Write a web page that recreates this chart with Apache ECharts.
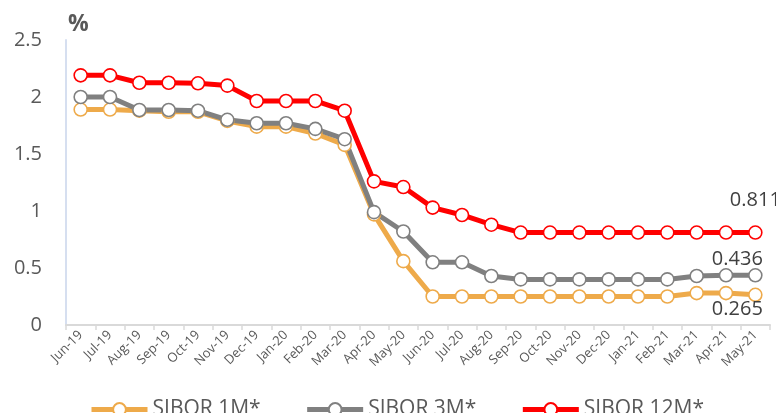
<!DOCTYPE html>
<html>
<head>
<meta charset="utf-8">
<script src="https://cdn.jsdelivr.net/npm/echarts@6/dist/echarts.min.js"></script>
<style>html,body{margin:0;padding:0;background:#fff;}#c{width:776px;height:413px;}</style>
</head>
<body>
<div id="c"></div>
<script>
const categories = ['Jun-19','Jul-19','Aug-19','Sep-19','Oct-19','Nov-19','Dec-19','Jan-20','Feb-20','Mar-20','Apr-20','May-20','Jun-20','Jul-20','Aug-20','Sep-20','Oct-20','Nov-20','Dec-20','Jan-21','Feb-21','Mar-21','Apr-21','May-21'];
const sibor1M = [1.89,1.89,1.88,1.87,1.87,1.79,1.74,1.74,1.68,1.58,0.97,0.56,0.25,0.25,0.25,0.25,0.25,0.25,0.25,0.25,0.25,0.28,0.28,0.265];
const sibor3M = [2.00,2.00,1.886,1.886,1.88,1.80,1.77,1.77,1.72,1.63,0.99,0.82,0.55,0.55,0.43,0.40,0.40,0.40,0.40,0.40,0.40,0.43,0.436,0.436];
const sibor12M = [2.19,2.19,2.125,2.125,2.12,2.10,1.965,1.965,1.965,1.88,1.26,1.21,1.03,0.965,0.88,0.811,0.811,0.811,0.811,0.811,0.811,0.811,0.811,0.811];
const yTicks = ['0','0.5','1','1.5','2','2.5'];
const seriesNames = ['SIBOR 1M*','SIBOR 3M*','SIBOR 12M*'];

function withEndLabel(arr, pos, offset) {
  return arr.map((v, i) => i === arr.length - 1 ? {
    value: v,
    label: { show: true, position: pos, offset: offset, formatter: String(v), fontSize: 20, color: '#404040', fontFamily: 'Open Sans' }
  } : v);
}

function mkSeries(name, data, color, pos, offset) {
  return {
    name: name, type: 'line', data: withEndLabel(data, pos, offset),
    symbol: 'circle', symbolSize: 13,
    lineStyle: { color: color, width: 5 },
    itemStyle: { color: '#ffffff', borderColor: color, borderWidth: 1.6 },
    emphasis: { disabled: true },
    z: 2
  };
}

const chart = echarts.init(document.getElementById('c'));
chart.setOption({
  animation: false,
  backgroundColor: '#ffffff',
  title: { text: '%', left: 63, top: 8, textStyle: { fontSize: 23, fontWeight: 'bold', color: '#595959', fontFamily: 'Open Sans' } },
  grid: { left: 66, top: 40, right: 6, bottom: 88, containLabel: false },
  legend: {
    bottom: -12, left: 84, itemWidth: 56, itemHeight: 16, itemGap: 44,
    textStyle: { fontSize: 21, color: '#595959', fontFamily: 'Open Sans' },
    lineStyle: { width: 5 },
    data: seriesNames
  },
  xAxis: {
    type: 'category', data: categories, boundaryGap: true,
    axisLine: { lineStyle: { color: '#d9d9d9', width: 2 } },
    axisTick: { show: true, length: 5, lineStyle: { color: '#d9d9d9', width: 1.5 } },
    axisLabel: { rotate: 45, fontSize: 13, color: '#595959', margin: 8, interval: 0, fontFamily: 'Open Sans' },
    splitLine: { show: false }
  },
  yAxis: {
    type: 'value', min: 0, max: 2.5, interval: 0.5,
    axisLine: { show: true, lineStyle: { color: '#d6dff0', width: 2 } },
    axisTick: { show: false },
    splitLine: { show: false },
    axisLabel: { fontSize: 20, color: '#595959', margin: 24, fontFamily: 'Open Sans',
      formatter: v => yTicks[Math.round(v / 0.5)] }
  },
  series: [
    mkSeries(seriesNames[0], sibor1M, '#EEAA4A', 'bottom', [-18, -8]),
    mkSeries(seriesNames[1], sibor3M, '#808080', 'top', [-18, 6]),
    mkSeries(seriesNames[2], sibor12M, '#FF0000', 'top', [0, -10])
  ]
});
</script>
</body>
</html>
